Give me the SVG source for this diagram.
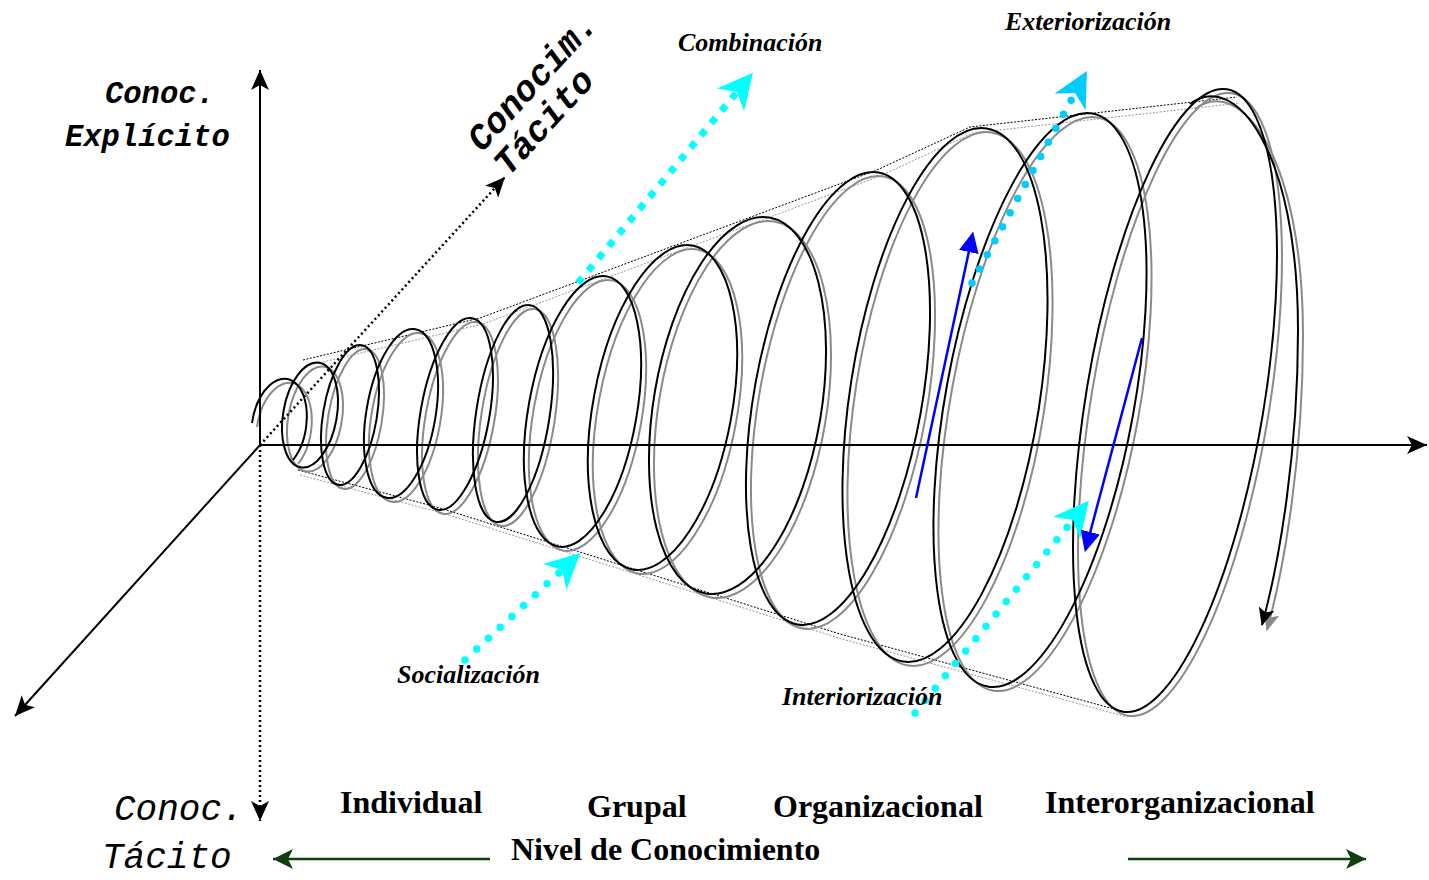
<svg xmlns="http://www.w3.org/2000/svg" xmlns:xlink="http://www.w3.org/1999/xlink" width="1429" height="880" viewBox="0 0 1429 880">
<style>
.k{fill:none;stroke:#000;stroke-width:2}
.g{fill:none;stroke:#8a8a8a;stroke-width:2}
.cone{fill:none;stroke:#000;stroke-width:1;stroke-dasharray:2 1.5}
.coneg{fill:none;stroke:#999;stroke-width:1;stroke-dasharray:2 1.5}
.axis{fill:none;stroke:#000;stroke-width:2}
.dots{fill:none;stroke:#000;stroke-width:2.5;stroke-dasharray:2 3}
.mono{font-family:"Liberation Mono","Courier New",monospace;font-style:italic;font-weight:bold;fill:#000}
.monon{font-family:"Liberation Mono","Courier New",monospace;font-style:italic;font-weight:normal;fill:#000}
.it{font-family:"Liberation Serif","Times New Roman",serif;font-style:italic;font-weight:bold;font-size:26px;fill:#000}
.lv{font-family:"Liberation Serif","Times New Roman",serif;font-weight:bold;font-size:32px;fill:#000}
.sq{fill:none;stroke:#00FFFF;stroke-width:7;stroke-dasharray:7 9}
.rd{fill:none;stroke:#00FFFF;stroke-width:7.5;stroke-linecap:round;stroke-dasharray:0 16}
.rd2{fill:none;stroke:#00CCFF;stroke-width:7.5;stroke-linecap:round;stroke-dasharray:0 16}
.bl{fill:none;stroke:#0000FF;stroke-width:2.5}
.gr{fill:none;stroke:#0F3F0F;stroke-width:2.5}
</style>
<defs>
<marker id="ah" markerUnits="userSpaceOnUse" viewBox="0 0 22 20" markerWidth="22" markerHeight="20" refX="20" refY="9" orient="auto"><path d="M0,0 L20,9 L0,18 L5,9 z" fill="#000"/></marker>
<marker id="ahg" markerUnits="userSpaceOnUse" viewBox="0 0 22 22" markerWidth="22" markerHeight="22" refX="20" refY="10" orient="auto"><path d="M0,0 L20,10 L0,20 L5,10 z" fill="#0F3F0F"/></marker>
<marker id="cy" markerUnits="userSpaceOnUse" viewBox="0 0 36 36" markerWidth="36" markerHeight="36" refX="10" refY="17.5" orient="auto"><path d="M0,0 L35,17.5 L0,35 L10,17.5 z" fill="#00FFFF"/></marker>
<marker id="cy2" markerUnits="userSpaceOnUse" viewBox="0 0 36 36" markerWidth="36" markerHeight="36" refX="10" refY="17.5" orient="auto"><path d="M0,0 L35,17.5 L0,35 L10,17.5 z" fill="#00CCFF"/></marker>
<marker id="bt" markerUnits="userSpaceOnUse" viewBox="0 0 22 22" markerWidth="22" markerHeight="22" refX="1" refY="10" orient="auto"><path d="M0,0 L21,10 L0,20 z" fill="#0000FF"/></marker>
<marker id="sk" markerUnits="userSpaceOnUse" viewBox="0 0 20 18" markerWidth="20" markerHeight="18" refX="17" refY="8" orient="auto"><path d="M0,0 L18,8 L0,16 L4,8 z" fill="#000"/></marker>
<marker id="sg" markerUnits="userSpaceOnUse" viewBox="0 0 20 18" markerWidth="20" markerHeight="18" refX="17" refY="8" orient="auto"><path d="M0,0 L18,8 L0,16 L4,8 z" fill="#8a8a8a"/></marker>
<g id="coils">
<path d="M252,423 A27,47 10 1 1 293,460"/>
<ellipse cx="310" cy="415" rx="26.8" ry="53.1" transform="rotate(10.2 310 415)"/>
<ellipse cx="350" cy="415" rx="26.9" ry="70.8" transform="rotate(9.5 350 415)"/>
<ellipse cx="401" cy="413.5" rx="34.6" ry="85.5" transform="rotate(9.7 401 413.5)"/>
<ellipse cx="455" cy="414" rx="34.4" ry="97.3" transform="rotate(10.1 455 414)"/>
<ellipse cx="513" cy="413.5" rx="36.7" ry="109.7" transform="rotate(8.9 513 413.5)"/>
<ellipse cx="582.5" cy="411.5" rx="54.1" ry="137.3" transform="rotate(10.2 582.5 411.5)"/>
<ellipse cx="662.5" cy="407.5" rx="69.4" ry="164.7" transform="rotate(10.5 662.5 407.5)"/>
<ellipse cx="737.5" cy="405.5" rx="83.8" ry="190.6" transform="rotate(9.6 737.5 405.5)"/>
<ellipse cx="838" cy="398.5" rx="83.9" ry="229.6" transform="rotate(10.2 838 398.5)"/>
<ellipse cx="945" cy="395" rx="94.8" ry="269.8" transform="rotate(8.9 945 395)"/>
<ellipse cx="1040" cy="400" rx="94.2" ry="291.3" transform="rotate(10.4 1040 400)"/>
<ellipse cx="1175" cy="400.5" rx="88.9" ry="315.5" transform="rotate(9.5 1175 400.5)"/>
</g>
</defs>

<g id="cone">
<path class="coneg" transform="translate(3,6)" d="M303,360 L480,318 L877,170 L970,127 L1237,97"/>
<path class="cone" d="M303,360 L480,318 L877,170 L970,127 L1237,97"/>
<path class="coneg" transform="translate(2,5)" d="M298,470 L440,508 L840,634 L1125,712"/>
<path class="cone" d="M298,470 L440,508 L840,634 L1125,712"/>
</g>

<g id="spiral">
<use xlink:href="#coils" class="g" transform="translate(5,4)"/>
<path class="g" transform="translate(5,5)" d="M1190,104 C1235,70 1298,150 1298,330 C1298,450 1280,560 1262,625" marker-end="url(#sg)"/>
<use xlink:href="#coils" class="k"/>
<path class="k" d="M1190,104 C1235,70 1298,150 1298,330 C1298,450 1280,560 1262,625" marker-end="url(#sk)"/>
</g>

<g id="axes">
<line class="axis" x1="260" y1="445" x2="260" y2="70" marker-end="url(#ah)"/>
<line class="axis" x1="260" y1="445" x2="1427" y2="445" marker-end="url(#ah)"/>
<line class="axis" x1="260" y1="445" x2="15" y2="716" marker-end="url(#ah)"/>
<line class="dots" x1="260" y1="445" x2="260" y2="821" marker-end="url(#ah)"/>
<line class="dots" x1="260" y1="445" x2="505" y2="177" marker-end="url(#ah)"/>
</g>

<g id="connectors">
<line class="sq" x1="578" y1="283" x2="737" y2="92" marker-end="url(#cy)"/>
<line class="rd" x1="465" y1="660" x2="562" y2="570" marker-end="url(#cy)"/>
<line class="rd2" x1="972" y1="283" x2="1075" y2="93" marker-end="url(#cy2)"/>
<line class="rd" x1="915" y1="713" x2="1073" y2="520" marker-end="url(#cy)"/>
<line class="bl" x1="916" y1="498" x2="969" y2="251" marker-end="url(#bt)"/>
<line class="bl" x1="1142" y1="338" x2="1090" y2="533" marker-end="url(#bt)"/>
<line class="gr" x1="490" y1="859" x2="273" y2="859" marker-end="url(#ahg)"/>
<line class="gr" x1="1128" y1="859" x2="1366" y2="859" marker-end="url(#ahg)"/>
</g>

<g id="labels">
<text class="mono" x="105" y="103" font-size="30.5">Conoc.</text>
<text class="mono" x="65" y="146" font-size="30.5">Explícito</text>
<g transform="translate(482,153) rotate(-47.5)">
<text class="mono" x="0" y="0" font-size="36">Conocim.</text>
<text class="mono" x="0" y="36" font-size="36">Tácito</text>
</g>
<text class="monon" x="114" y="820" font-size="36">Conoc.</text>
<text class="monon" x="102" y="868" font-size="36">Tácito</text>
<text class="it" x="678" y="51">Combinación</text>
<text class="it" x="1005" y="30">Exteriorización</text>
<text class="it" x="397" y="683">Socialización</text>
<text class="it" x="782" y="705">Interiorización</text>
<text class="lv" x="340" y="813">Individual</text>
<text class="lv" x="587" y="817">Grupal</text>
<text class="lv" x="773" y="817">Organizacional</text>
<text class="lv" x="1045" y="813">Interorganizacional</text>
<text class="lv" x="511" y="860">Nivel de Conocimiento</text>
</g>
</svg>
